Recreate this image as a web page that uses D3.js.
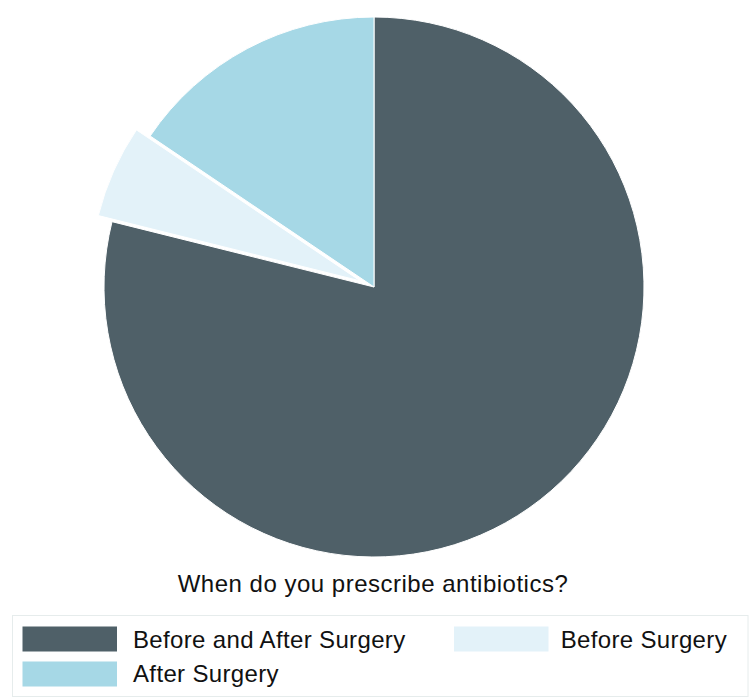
<!DOCTYPE html>
<html>
<head>
<meta charset="utf-8">
<script src="https://cdn.jsdelivr.net/npm/d3@7"></script>
<style>
  body { margin: 0; background: #fff; }
  text { font-family: "Liberation Sans", Arial, sans-serif; fill: #111; }
</style>
</head>
<body>
<div id="chart"></div>
<script>
// chart values
var categories = ["Before and After Surgery", "Before Surgery", "After Surgery"];
var counts = [71, 5, 14];
var colors = ["#4f6068", "#e3f2f9", "#a6d8e6"];
var exploded = [false, true, false];
var title = "When do you prescribe antibiotics?";

var svgWidth = 755;
var svgHeight = 699;
var cx = 374, cy = 287, radius = 270;
var explodeBy = 15;

var svg = d3.select("#chart")
  .append("svg")
  .attr("width", svgWidth)
  .attr("height", svgHeight);

var rows = categories.map(function(c, i) {
  return { name: c, value: counts[i], color: colors[i], out: exploded[i] };
});

var pie = d3.pie()
  .sort(null)
  .value(function(d) { return d.value; });

var arc = d3.arc().innerRadius(0).outerRadius(radius);

var g = svg.append("g").attr("transform", "translate(" + cx + "," + cy + ")");

g.selectAll("path")
  .data(pie(rows))
  .enter()
  .append("path")
  .attr("d", arc)
  .attr("fill", function(d) { return d.data.color; })
  .attr("stroke", "#ffffff")
  .attr("stroke-width", 1)
  .attr("transform", function(d) {
    if (!d.data.out) return null;
    var mid = (d.startAngle + d.endAngle) / 2;
    return "translate(" + (Math.sin(mid) * explodeBy) + "," + (-Math.cos(mid) * explodeBy) + ")";
  });

// title
svg.append("text")
  .attr("x", 373)
  .attr("y", 592)
  .attr("text-anchor", "middle")
  .attr("font-size", 24)
  .attr("letter-spacing", 0.5)
  .text(title);

// legend
svg.append("rect")
  .attr("x", 12.5)
  .attr("y", 615.5)
  .attr("width", 735.5)
  .attr("height", 81)
  .attr("fill", "#fff")
  .attr("stroke", "#e6ecec")
  .attr("stroke-width", 1);

var legendPos = [
  { sx: 22.5, sy: 626.5, tx: 133, ty: 648, anchor: "start" },
  { sx: 454, sy: 626.5, tx: 727, ty: 648, anchor: "end" },
  { sx: 22.5, sy: 661.5, tx: 133, ty: 682, anchor: "start" }
];

var items = svg.selectAll("g.legendItem")
  .data(rows)
  .enter()
  .append("g")
  .attr("class", "legendItem");

items.append("rect")
  .attr("x", function(d, i) { return legendPos[i].sx; })
  .attr("y", function(d, i) { return legendPos[i].sy; })
  .attr("width", 94.5)
  .attr("height", 25)
  .attr("fill", function(d) { return d.color; });

items.append("text")
  .attr("x", function(d, i) { return legendPos[i].tx; })
  .attr("y", function(d, i) { return legendPos[i].ty; })
  .attr("text-anchor", function(d, i) { return legendPos[i].anchor; })
  .attr("font-size", 24)
  .attr("letter-spacing", 0.35)
  .text(function(d) { return d.name; });
</script>
</body>
</html>
